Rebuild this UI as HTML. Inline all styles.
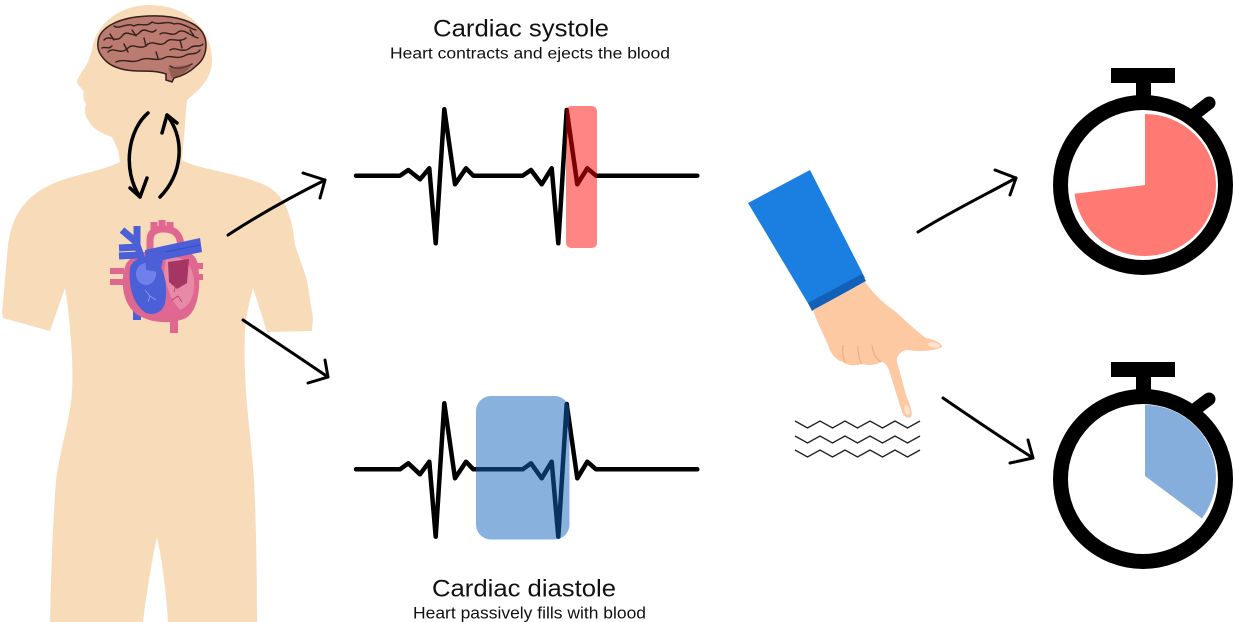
<!DOCTYPE html>
<html>
<head>
<meta charset="utf-8">
<style>
  html,body{margin:0;padding:0;background:#fff;}
  svg{display:block;}
</style>
</head>
<body>
<svg width="1234" height="622" viewBox="0 0 1234 622" xmlns="http://www.w3.org/2000/svg">
  <rect x="0" y="0" width="1234" height="622" fill="#ffffff"/>

  <!-- Body silhouette -->
  <path fill="#f8dcba" d="
    M150 5
    C 185 5, 213 28, 212 62
    C 211 80, 199 90, 187 100
    L 182 160
    C 200 170, 235 172, 265 185
    C 285 195, 292 215, 295 245
    L 307 280 L 313 318 L 312 331 L 267 332 L 253 288
    C 250 300, 246 315, 245 330
    C 244 350, 245 375, 246 392
    C 248 420, 252 450, 254 480
    C 256 520, 257 570, 257 622
    L 168 622
    C 166 590, 162 560, 157 537
    C 152 560, 147 590, 143 622
    L 50 622
    C 51 570, 53 520, 56 480
    C 60 450, 70 420, 72 392
    C 73 370, 72 350, 70 330
    C 69 315, 67 300, 65 288
    L 50 331 L 3 318 L 2 313
    L 8 245
    C 12 215, 25 197, 50 185
    C 70 175, 100 172, 120 162
    L 118 150 L 112 137
    C 100 133, 92 128, 88 120
    C 85 116, 84 110, 86 104
    C 84 100, 82 97, 84 92
    C 82 88, 78 86, 77 82
    C 78 76, 84 70, 88 62
    L 92 50
    C 95 25, 118 5, 150 5 Z"/>

  <!-- Brain -->
  <path fill="#bb7b70" stroke="#33201b" stroke-width="1.5" d="
    M98 42 C 99 27, 120 17, 148 16 C 175 15, 200 21, 205 38
    C 208 50, 204 60, 196 66 C 190 72, 182 76, 174 78
    L 172 82 L 166 80 L 166 74
    C 158 71, 148 71, 138 71 C 126 71, 114 68, 107 62
    C 100 56, 97 49, 98 42 Z"/>
  <g fill="none" stroke="#33201b" stroke-width="1.4" stroke-linecap="round">
    <path d="M104 40 C 110 34, 116 44, 122 36 C 128 28, 134 40, 140 32 C 146 26, 150 36, 156 30"/>
    <path d="M108 52 C 114 46, 120 56, 128 48 C 134 42, 140 52, 148 44 C 154 40, 160 48, 166 42 C 172 36, 178 44, 186 38"/>
    <path d="M114 26 C 120 30, 126 22, 134 26 C 140 22, 146 28, 152 22 C 160 26, 166 20, 174 24 C 182 22, 188 28, 196 30"/>
    <path d="M116 62 C 124 58, 132 64, 140 60 C 148 56, 156 62, 164 58 C 170 54, 176 60, 184 56 C 190 52, 196 56, 200 50"/>
    <path d="M160 34 C 166 30, 172 38, 178 32 C 184 28, 190 36, 198 38"/>
    <path d="M170 50 C 176 46, 182 54, 190 48 C 194 44, 200 48, 203 44"/>
    <path d="M170 66 C 176 70, 184 68, 192 64"/>
    <path d="M102 48 C 106 46, 108 50, 112 46"/>
    <path d="M124 44 L 128 52 M 144 38 L 146 46 M 132 30 L 136 36 M 180 40 L 182 48 M 156 52 L 158 58 M 110 34 L 114 40 M 190 30 L 194 36"/>
  </g>
  <path fill="#7a4a40" d="M168 68 C 176 66, 186 66, 192 64 C 188 72, 180 76, 172 78 Z" opacity="0.6"/>

  <!-- Curved arrows between brain and heart -->
  <g fill="none" stroke="#000" stroke-width="3.5" stroke-linecap="round" stroke-linejoin="round">
    <path d="M148 113 C 128 130, 122 170, 140 197"/>
    <path d="M130 188 L 140 197 L 147 178"/>
    <path d="M160 197 C 182 175, 186 140, 167 115"/>
    <path d="M162 133 L 167 115 L 177 123"/>
  </g>

  <!-- Heart -->
  <g>
    <rect x="110" y="268" width="14" height="6" fill="#e0678f"/>
    <rect x="110" y="279" width="14" height="6" fill="#e0678f"/>
    <rect x="194" y="263" width="9" height="6" fill="#e0678f"/>
    <rect x="194" y="274" width="9" height="6" fill="#e0678f"/>
    <rect x="170" y="315" width="8" height="18" fill="#e0678f"/>
    <rect x="133" y="298" width="8" height="22" fill="#4b5fd6"/>
    <path fill="#e0678f" d="M126 264 C 120 280, 122 302, 135 313 C 148 323, 170 325, 186 318 C 199 310, 201 285, 198 264 C 195 252, 184 248, 170 250 C 155 249, 134 251, 126 264 Z"/>
    <path fill="#e889a8" d="M166 258 C 180 254, 192 262, 194 280 C 195 296, 190 306, 180 310 C 172 302, 166 287, 164 272 Z"/>
    <path fill="#a53562" d="M168 262 L 189 259 L 187 283 L 177 289 L 169 282 Z"/>
    <path fill="#4b5fd6" d="M130 268 C 128 286, 133 305, 146 313 C 156 316, 163 311, 165 303 C 168 288, 165 270, 156 260 C 146 254, 133 258, 130 268 Z"/>
    <ellipse cx="146" cy="274" rx="10" ry="11" fill="#7080ea"/>
    <path fill="none" stroke="#8ea0f0" stroke-width="0.8" d="M145 290 L 150 296 L 148 302 M150 296 L 156 300"/>
    <path fill="none" stroke="#b04068" stroke-width="0.8" d="M172 300 L 178 296 L 182 302 M176 284 L 174 292"/>
    <g fill="none" stroke="#4b5fd6" stroke-width="7" stroke-linecap="butt">
      <path d="M122 230 L 136 242 L 143 262"/>
      <path d="M137 226 L 137 244"/>
      <path d="M119 248 L 138 247"/>
      <path d="M119 256 L 138 255"/>
    </g>
    <g fill="none" stroke="#e0678f" stroke-width="7">
      <path d="M150 258 L 150 240 C 150 232, 156 229, 163 229 C 172 229, 178 232, 180 240 L 182 252"/>
      <path d="M154 232 L 154 222 M 162 229 L 162 220 M 170 230 L 170 222"/>
    </g>
    <path fill="#4b5fd6" d="M145 250 L 200 238 L 202 252 L 163 260 L 160 272 L 146 270 Z"/>
    <path fill="none" stroke="#3a4cc0" stroke-width="1" d="M165 252 L 200 245"/>
  </g>

  <!-- Left arrows -->
  <g fill="none" stroke="#000" stroke-width="3" stroke-linecap="round" stroke-linejoin="round">
    <path d="M228 235 C 260 214, 293 196, 325 180"/>
    <path d="M303 173 L 325 180 L 320 198"/>
    <path d="M243 320 C 270 338, 300 358, 328 377"/>
    <path d="M325 360 L 328 377 L 308 383"/>
  </g>

  <!-- Top ECG -->
  <polyline fill="none" stroke="#000" stroke-width="4.5" stroke-linejoin="round" stroke-linecap="round"
    points="356,175.7 400,175.7 408.3,170 420,179.3 429.3,168.3 435.7,243.3 444.3,109.3 455,184.3 466,168.3 473.3,175.7 522.7,175.7 531,170 541.7,184.3 551.7,168.3 558.3,243.3 566.7,110 577.3,184.3 587.3,168.3 596,175.7 697.3,175.7"/>
  <rect x="566" y="106" width="31" height="142" rx="5" fill="#ff0000" fill-opacity="0.48"/>

  <!-- Bottom ECG -->
  <polyline fill="none" stroke="#000" stroke-width="4.5" stroke-linejoin="round" stroke-linecap="round"
    points="356,469.3 400,469.3 408.3,463.3 420,474.3 429.3,461.7 435.7,536.7 444.3,403.3 455,478.3 466,461.7 473.3,469.3 522.7,469.3 531,463.3 541.7,478.3 551.7,461.7 558.3,536.7 566.7,404 577.3,478.3 587.3,461.7 596,469.3 697.3,469.3"/>
  <rect x="476" y="396" width="93.5" height="143.5" rx="15" fill="#1464be" fill-opacity="0.5"/>

  <!-- Labels -->
  <g font-family="'Liberation Sans', 'DejaVu Sans', sans-serif" fill="#111">
    <text x="433" y="36.5" font-size="24" textLength="176" lengthAdjust="spacingAndGlyphs">Cardiac systole</text>
    <text x="390" y="58.3" font-size="15.5" textLength="280" lengthAdjust="spacingAndGlyphs">Heart contracts and ejects the blood</text>
    <text x="432" y="596.7" font-size="24" textLength="184" lengthAdjust="spacingAndGlyphs">Cardiac diastole</text>
    <text x="413" y="618.3" font-size="16.5" textLength="233" lengthAdjust="spacingAndGlyphs">Heart passively fills with blood</text>
  </g>

  <!-- Hand -->
  <path fill="#1a7fe0" d="M748 203 L 810 170 L 865 278 L 812 310 Z"/>
  <path fill="#1360b8" d="M808 303 L 862 274 L 866 281 L 812 311 Z"/>
  <path fill="#fcc9a3" d="M813 310 L 865 282
    C 874 294, 884 304, 896 312
    C 906 321, 915 330, 926 338
    C 935 340, 942 343, 942 347
    C 935 351, 920 352, 906 350
    C 900 352, 896 356, 897 362
    L 906 395
    C 910 405, 913 412, 911 417
    C 907 419, 903 416, 902 412
    L 889 370
    C 887 365, 884 362, 881 362
    C 876 365, 869 366, 862 364
    C 855 366, 848 366, 843 362
    C 835 360, 830 352, 828 345
    C 824 335, 818 325, 813 310 Z"/>
  <g fill="none" stroke="#f0ad85" stroke-width="1.2">
    <path d="M843 345 C 842 352, 843 358, 845 362"/>
    <path d="M858 346 C 858 354, 859 360, 862 364"/>
    <path d="M872 345 C 873 353, 876 359, 881 362"/>
  </g>
  <ellipse cx="934" cy="345" rx="6" ry="2.5" fill="#fde3d0" transform="rotate(10 934 345)"/>
  <ellipse cx="907" cy="410" rx="2.5" ry="5" fill="#fde3d0" transform="rotate(-15 907 410)"/>

  <!-- Wavy lines -->
  <g fill="none" stroke="#222" stroke-width="1.4" stroke-linejoin="miter">
    <polyline points="795,421 807.5,428 820,421 832.5,428 845,421 857.5,428 870,421 882.5,428 895,421 907.5,428 920,421"/>
    <polyline points="795,436 807.5,443 820,436 832.5,443 845,436 857.5,443 870,436 882.5,443 895,436 907.5,443 920,436"/>
    <polyline points="795,450 807.5,457 820,450 832.5,457 845,450 857.5,457 870,450 882.5,457 895,450 907.5,457 920,450"/>
  </g>

  <!-- Right arrows -->
  <g fill="none" stroke="#000" stroke-width="3" stroke-linecap="round" stroke-linejoin="round">
    <path d="M918 232 C 950 212, 985 195, 1016 178"/>
    <path d="M995 170 L 1016 178 L 1010 195"/>
    <path d="M943 398 C 975 420, 1005 440, 1033 458"/>
    <path d="M1028 440 L 1033 458 L 1010 463"/>
  </g>

  <!-- Top stopwatch -->
  <rect x="1111" y="68" width="64" height="15" fill="#000"/>
  <rect x="1136" y="82" width="15" height="16" fill="#000"/>
  <line x1="1196" y1="113" x2="1209" y2="103" stroke="#000" stroke-width="13" stroke-linecap="round"/>
  <circle cx="1143" cy="185" r="82.5" fill="#fff" stroke="#000" stroke-width="15"/>
  <path fill="#ff7a72" d="M1145 185 L 1145 114 A 71 71 0 1 1 1074.5 193.7 Z"/>

  <!-- Bottom stopwatch -->
  <rect x="1111" y="362" width="64" height="15" fill="#000"/>
  <rect x="1136" y="376" width="15" height="16" fill="#000"/>
  <line x1="1197" y1="408" x2="1209" y2="399" stroke="#000" stroke-width="13" stroke-linecap="round"/>
  <circle cx="1143" cy="479" r="82.5" fill="#fff" stroke="#000" stroke-width="15"/>
  <path fill="#86aedc" d="M1145 476 L 1145 405 A 71 71 0 0 1 1201.9 518.4 Z"/>
</svg>
</body>
</html>
